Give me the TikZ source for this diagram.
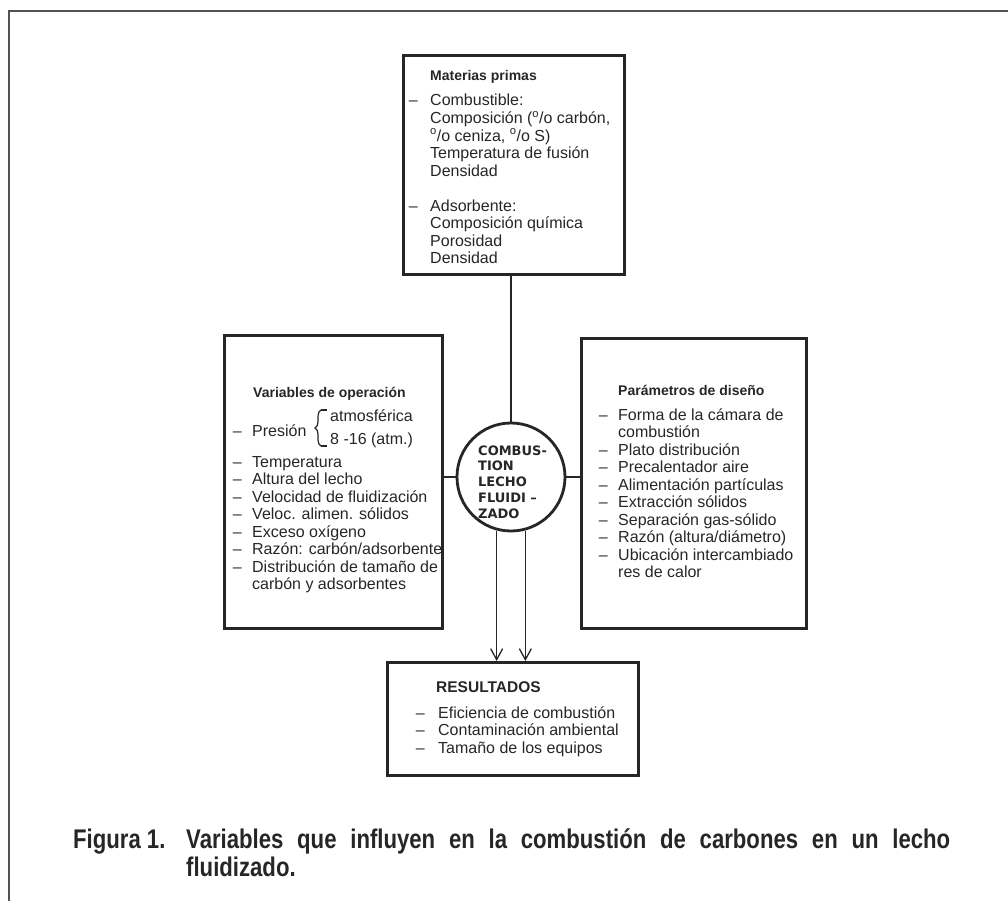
\documentclass[tikz,border=0pt]{standalone}
\usepackage{fontspec}
\setmainfont{Liberation Sans}
\newfontfamily\circfont{DejaVu Sans}
\newfontfamily\capfont[FakeStretch=0.82]{Liberation Sans}
\usetikzlibrary{arrows.meta,decorations.pathreplacing}
\definecolor{ink}{gray}{0.15}
\newcommand{\dl}[1]{\llap{–\hspace{#1}}}
\newcommand{\pc}{\textsuperscript{o}/o}
\tikzset{
  box/.style={draw=ink, line width=2.8pt, rectangle, inner sep=0pt, anchor=north west},
  conn/.style={draw=ink, line width=1.3pt},
  ttl/.style={font=\fontsize{14}{16}\selectfont\bfseries, text=ink, inner sep=0pt, anchor=base west},
  body/.style={font=\fontsize{16}{17.5}\selectfont, text=ink, inner sep=0pt, anchor=base west},
  captxt/.style={font=\capfont\fontsize{27}{30}\selectfont\bfseries, text=ink, inner sep=0pt, anchor=base west},
  frame/.style={draw=ink!80, line width=1.6pt},
  tip/.style={-{Straight Barb[length=11pt,width=12pt,line width=1.3pt]}},
}
\begin{document}
\begin{tikzpicture}[x=1pt,y=-1pt]
\useasboundingbox (0,0) rectangle (1008,901);
% outer frame (open at right and bottom)
\coordinate (f1) at (9,901);
\coordinate (f2) at (9,11);
\coordinate (f3) at (1008,11);
\draw[frame] (f1) -- (f2) -- (f3);

% boxes
\node[box, minimum width=221pt, minimum height=219pt] (tb) at (402,54) {};
\node[box, minimum width=218pt, minimum height=293pt] (lb) at (223,334) {};
\node[box, minimum width=225pt, minimum height=290pt] (rb) at (580,337) {};
\node[box, minimum width=251pt, minimum height=113pt] (bb) at (386,661) {};
\node[draw=ink, line width=2.8pt, circle, minimum size=108pt, inner sep=0pt] (c) at (511,477) {};

% connectors
\draw[conn] (c.north) -- (c.north |- tb.south);
\draw[conn] (c.west) -- (c.west -| lb.east);
\draw[conn] (c.east) -- (c.east -| rb.west);
\draw[conn, tip] (c.255) -- (c.255 |- bb.north);
\draw[conn, tip] (c.285) -- (c.285 |- bb.north);

% circle text
\node[font=\circfont\bfseries\fontsize{13}{15.8}\selectfont, text=ink, inner sep=0pt, anchor=base west] (ct) at (478,455)
  {\begin{tabular}[t]{@{}l@{}}COMBUS-\\TION\\LECHO\\FLUIDI –\\ZADO\end{tabular}};

% top box
\node[ttl] (tbt) at (430,81) {Materias primas};
\node[body] (tbl) at (430,106) {\begin{tabular}[t]{@{}l@{}}
\dl{12.5pt}Combustible:\\
Composición (\pc{} carbón,\\
\pc{} ceniza, \pc{} S)\\
Temperatura de fusión\\
Densidad\\
\\
\dl{12.5pt}Adsorbente:\\
Composición química\\
Porosidad\\
Densidad
\end{tabular}};

% left box
\node[ttl] (lbt) at (253,397) {Variables de operación};
\node[body] (pres) at (252,436) {\dl{10.5pt}Presión};
\draw[conn, line width=1.2pt, decorate, decoration={brace, amplitude=6pt}] (321,446) -- (321,410);
\coordinate (bk1) at (321,410);
\coordinate (bk2) at (327,410);
\coordinate (bk3) at (321,446);
\coordinate (bk4) at (327,446);
\draw[conn, line width=1.2pt] (bk2) -- (bk1);
\draw[conn, line width=1.2pt] (bk4) -- (bk3);
\node[body] (atm1) at (330,421) {atmosférica};
\node[body] (atm2) at (330,444) {8 -16 (atm.)};
\node[body] (lbl) at (252,467) {\begin{tabular}[t]{@{}l@{}}
\dl{10.5pt}Temperatura\\
\dl{10.5pt}Altura del lecho\\
\dl{10.5pt}Velocidad de fluidización\\
\dl{10.5pt}Veloc. alimen. sólidos\\
\dl{10.5pt}Exceso oxígeno\\
\dl{10.5pt}Razón: carbón/adsorbente\\
\dl{10.5pt}Distribución de tamaño de\\
carbón y adsorbentes
\end{tabular}};

% right box
\node[ttl] (rbt) at (618,395) {Parámetros de diseño};
\node[body] (rbl) at (618,420) {\begin{tabular}[t]{@{}l@{}}
\dl{10.5pt}Forma de la cámara de\\
combustión\\
\dl{10.5pt}Plato distribución\\
\dl{10.5pt}Precalentador aire\\
\dl{10.5pt}Alimentación partículas\\
\dl{10.5pt}Extracción sólidos\\
\dl{10.5pt}Separación gas-sólido\\
\dl{10.5pt}Razón (altura/diámetro)\\
\dl{10.5pt}Ubicación intercambiado\\
res de calor
\end{tabular}};

% bottom box
\node[ttl, font=\fontsize{15.5}{17}\selectfont\bfseries] (bbt) at (436,692) {RESULTADOS};
\node[body] (bbl) at (438,718) {\begin{tabular}[t]{@{}l@{}}
\dl{13.5pt}Eficiencia de combustión\\
\dl{13.5pt}Contaminación ambiental\\
\dl{13.5pt}Tamaño de los equipos
\end{tabular}};

% caption
\node[captxt] (fig) at (73,848) {Figura 1.};
\node[captxt] (cap1) at (186,848) {\makebox[764pt][s]{Variables que influyen en la combustión de carbones en un lecho}};
\node[captxt] (cap2) at (186,876) {fluidizado.};
\end{tikzpicture}
\end{document}
